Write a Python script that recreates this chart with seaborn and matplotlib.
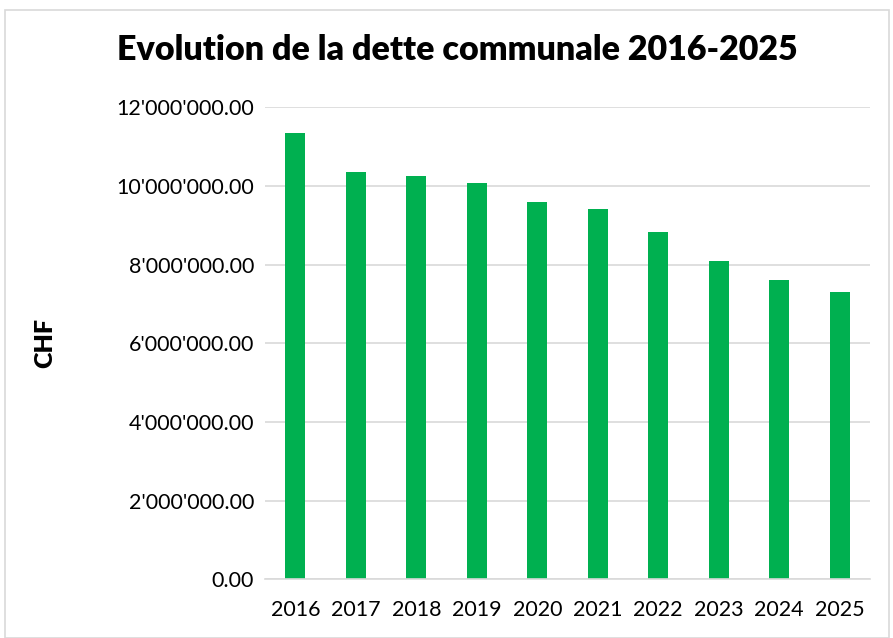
import matplotlib
matplotlib.use("Agg")
import matplotlib.pyplot as plt
import matplotlib.ticker as mticker
from matplotlib.patches import Rectangle
import pandas as pd
import seaborn as sns

years = ["2016", "2017", "2018", "2019", "2020", "2021", "2022", "2023", "2024", "2025"]
debt = [11340000, 10360000, 10240000, 10070000, 9580000,
        9410000, 8830000, 8090000, 7620000, 7300000]

df = pd.DataFrame({"year": years, "debt": debt})

sns.set_theme(style="white")
plt.rcParams["font.family"] = ["Lato", "DejaVu Sans"]
plt.rcParams["text.color"] = "black"
plt.rcParams["axes.labelcolor"] = "black"

fig = plt.figure(figsize=(8.93, 6.38), dpi=100)
ax = fig.add_axes([0.297, 0.092, 0.677, 0.740])

sns.barplot(data=df, x="year", y="debt", color="#00B050", width=0.33,
            saturation=1, edgecolor="none", ax=ax)

ax.set_ylim(0, 12000000)
ax.set_xlim(-0.5, 9.5)
ax.yaxis.set_major_locator(mticker.MultipleLocator(2000000))
ax.yaxis.set_major_formatter(
    mticker.FuncFormatter(lambda v, p: f"{v:,.2f}".replace(",", "'")))
ax.grid(axis="y", color="#D9D9D9", linewidth=1.2)
ax.set_axisbelow(True)
for s in ["top", "right", "left"]:
    ax.spines[s].set_visible(False)
ax.spines["bottom"].set_color("#D9D9D9")
ax.spines["bottom"].set_linewidth(1.2)
ax.tick_params(axis="both", length=0, labelsize=15.5, colors="black", pad=8)
ax.tick_params(axis="x", pad=15)

ax.set_xlabel("")
ax.set_ylabel("CHF", fontsize=18, fontweight="heavy")
ax.yaxis.set_label_coords(-0.345, 0.5)

fig.text(0.512, 0.922, "Evolution de la dette communale 2016-2025", fontsize=24.5,
         fontweight="heavy", ha="center", va="center", color="black")

fig.patches.append(Rectangle((0.006, 0.0), 0.99, 0.985, transform=fig.transFigure,
                             fill=False, edgecolor="#D9D9D9", linewidth=1.2))

fig.savefig("out.png", dpi=100)
